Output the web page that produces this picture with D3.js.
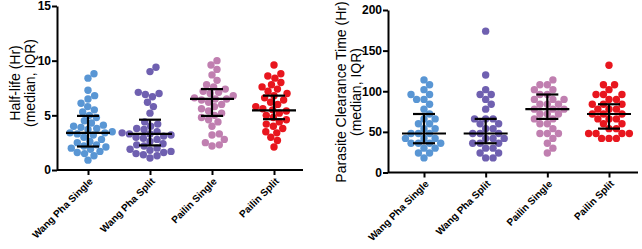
<!DOCTYPE html>
<html>
<head>
<meta charset="utf-8">
<script src="https://cdn.jsdelivr.net/npm/d3@7"></script>
<style>
  body { margin: 0; background: #fff; }
  svg { display: block; font-family: Arial, "Liberation Sans", sans-serif; }
</style>
</head>
<body>
<div class="canvas"></div>
<script>
// categories + colours
const groups = ['Wang Pha Single', 'Wang Pha Split', 'Pailin Single', 'Pailin Split']
const colors = ['#5996d4', '#6f60b0', '#c07fb0', '#e8161e']

// half-life (Hr)
const halfLife = [
  [8.8, 8.4, 7.3, 6.8, 6.5, 6.1, 5.8, 5.5, 5.3, 5.0, 4.8, 4.5, 4.3, 4.1, 4.0, 3.9, 3.8, 3.7, 3.5, 3.4, 3.4, 3.3, 3.2, 3.0, 2.8, 2.6, 2.5, 2.3, 2.2, 2.1, 2.0, 1.9, 1.7, 1.6, 1.5, 1.3, 0.9],
  [9.4, 9.0, 7.1, 7.0, 6.9, 6.7, 6.2, 5.8, 5.2, 4.4, 4.2, 4.0, 3.8, 3.7, 3.5, 3.4, 3.3, 3.3, 3.2, 3.1, 3.0, 2.9, 2.8, 2.6, 2.4, 2.3, 2.2, 2.0, 1.9, 1.8, 1.7, 1.6, 1.5, 1.4, 1.3, 1.1],
  [10.0, 9.6, 9.2, 8.7, 8.2, 7.8, 7.6, 7.4, 7.2, 7.1, 7.0, 6.8, 6.6, 6.5, 6.5, 6.4, 6.2, 6.0, 5.8, 5.6, 5.4, 5.2, 5.0, 4.8, 4.6, 4.4, 4.0, 3.3, 3.2, 2.8, 2.5, 2.3, 2.2],
  [9.6, 8.8, 8.6, 8.4, 8.0, 7.8, 7.6, 7.4, 7.2, 7.0, 6.8, 6.6, 6.4, 6.2, 6.0, 5.8, 5.6, 5.5, 5.4, 5.2, 5.0, 4.8, 4.6, 4.4, 4.2, 4.0, 3.8, 3.5, 3.4, 3.0, 2.7, 2.1]
]
const halfLifeMedian = [3.4, 3.3, 6.5, 5.45]
const halfLifeQ1 = [2.15, 2.25, 4.95, 4.65]
const halfLifeQ3 = [4.95, 4.6, 7.4, 6.8]

// parasite clearance time (Hr), right panel
const pct = [
  [114, 108, 102, 96, 96, 90, 90, 84, 78, 72, 66, 66, 60, 60, 54, 54, 48, 48, 48, 42, 42, 42, 36, 36, 36, 36, 30, 30, 24, 24, 18],
  [174, 120, 102, 96, 96, 90, 84, 78, 66, 66, 66, 60, 60, 54, 54, 48, 48, 48, 42, 42, 42, 36, 36, 36, 30, 30, 24, 24, 18, 18],
  [114, 108, 108, 102, 102, 96, 96, 90, 90, 90, 84, 84, 84, 78, 78, 78, 72, 72, 72, 66, 66, 60, 60, 54, 48, 48, 48, 42, 36, 30, 24],
  [132, 108, 108, 102, 96, 96, 96, 90, 90, 84, 84, 84, 78, 78, 78, 72, 72, 72, 66, 66, 66, 60, 60, 54, 54, 48, 48, 48, 48, 42, 42, 42]
]
const pctMedian = [48, 48, 78, 72]
const pctQ1 = [36, 36, 66, 54]
const pctQ3 = [72, 66, 96, 84]

const halfLifeTicks = [0, 5, 10, 15]
const pctTicks = [0, 50, 100, 150, 200]

const svg = d3.select('.canvas')
              .append('svg')
              .attr('width', 642)
              .attr('height', 249)

const r = 3.7

// simple beeswarm: place each dot as close to the centre as possible
const swarm = (values, yScale) => {
    const placed = []
    const sorted = values.map(v => ({v, y: yScale(v)})).sort((a, b) => b.y - a.y)
    const d = 2 * r
    sorted.forEach(p => {
        const cands = [0]
        placed.forEach(q => {
            const dy = Math.abs(q.y - p.y)
            if (dy < d){
                const dx = Math.sqrt(d * d - dy * dy)
                cands.push(q.x + dx, q.x - dx)
            }
        })
        cands.sort((a, b) => Math.abs(a) - Math.abs(b))
        const ok = x => placed.every(q => (q.x - x) ** 2 + (q.y - p.y) ** 2 >= d * d - 0.01)
        p.x = cands.find(ok)
        placed.push(p)
    })
    return placed
}

const drawPanel = (cfg) => {
    const yScale = d3.scaleLinear()
                     .domain(cfg.domain)
                     .range([cfg.bottom, cfg.top])
    const xScale = d3.scalePoint()
                     .domain(groups)
                     .range(cfg.xRange)

    const g = svg.append('g')

    // y axis
    const yAxis = d3.axisLeft(yScale)
                    .tickValues(cfg.ticks)
                    .tickSize(5)
                    .tickSizeOuter(0)
    const yAxisGroup = g.append('g')
                        .attr('transform', `translate(${cfg.axisX}, 0)`)
                        .call(yAxis)
    yAxisGroup.select('.domain').attr('stroke-width', 2)
    yAxisGroup.selectAll('.tick line').attr('stroke-width', 2)
    yAxisGroup.selectAll('text')
              .attr('font-size', 12)
              .attr('font-weight', 'bold')
              .attr('fill', '#000')
              .attr('font-family', 'Arial, "Liberation Sans", sans-serif')
              .attr('x', -6)

    // x axis
    const xAxis = d3.axisBottom(xScale)
                    .tickSize(5)
                    .tickSizeOuter(0)
    const xAxisGroup = g.append('g')
                        .attr('transform', `translate(0, ${cfg.bottom})`)
                        .call(xAxis)
    xAxisGroup.select('.domain').remove()
    xAxisGroup.append('line')
              .attr('x1', cfg.axisX)
              .attr('x2', cfg.xEnd)
              .attr('stroke', '#000')
              .attr('stroke-width', 2)
    xAxisGroup.selectAll('.tick line').attr('stroke-width', 2)
    xAxisGroup.selectAll('text')
              .attr('font-size', 10)
              .attr('font-weight', 'bold')
              .attr('fill', '#000')
              .attr('font-family', 'Arial, "Liberation Sans", sans-serif')
              .attr('text-anchor', 'end')
              .attr('dy', 0)
              .attr('y', 0)
              .attr('transform', 'translate(5, 12) rotate(-45)')

    // dots
    cfg.values.forEach((vals, i) => {
        const cx = xScale(groups[i])
        const pts = swarm(vals, yScale)
        g.append('g')
         .selectAll('circle')
         .data(pts)
         .enter()
         .append('circle')
         .attr('cx', d => cx + d.x)
         .attr('cy', d => d.y)
         .attr('r', r)
         .attr('fill', colors[i])
    })

    // median + IQR
    groups.forEach((grp, i) => {
        const cx = xScale(grp)
        const eb = g.append('g')
                    .attr('stroke', '#000')
                    .attr('stroke-width', 2.2)
        eb.append('line')
          .attr('x1', cx - 22).attr('x2', cx + 22)
          .attr('y1', yScale(cfg.median[i])).attr('y2', yScale(cfg.median[i]))
        eb.append('line')
          .attr('x1', cx).attr('x2', cx)
          .attr('y1', yScale(cfg.q1[i])).attr('y2', yScale(cfg.q3[i]))
        ;[cfg.q1[i], cfg.q3[i]].forEach(q => {
            eb.append('line')
              .attr('x1', cx - 11).attr('x2', cx + 11)
              .attr('y1', yScale(q)).attr('y2', yScale(q))
        })
    })

    // y label
    const lab = g.append('text')
                 .attr('transform', `translate(${cfg.labelX}, ${cfg.labelY}) rotate(-90)`)
                 .attr('text-anchor', 'middle')
                 .attr('font-size', 14)
                 .attr('fill', '#000')
    lab.append('tspan').attr('x', 0).attr('y', 0).text(cfg.label)
    lab.append('tspan').attr('x', 0).attr('y', 15).text('(median, IQR)')
}

drawPanel({
    domain: [0, 15], ticks: halfLifeTicks, top: 6, bottom: 170,
    axisX: 57, xEnd: 303, xRange: [88, 274],
    values: halfLife, median: halfLifeMedian, q1: halfLifeQ1, q3: halfLifeQ3,
    label: 'Half-life (Hr)', labelX: 20, labelY: 83
})

drawPanel({
    domain: [0, 200], ticks: pctTicks, top: 10, bottom: 172.5,
    axisX: 388, xEnd: 638, xRange: [424, 609],
    values: pct, median: pctMedian, q1: pctQ1, q3: pctQ3,
    label: 'Parasite Clearance Time (Hr)', labelX: 346, labelY: 92
})
</script>
</body>
</html>
